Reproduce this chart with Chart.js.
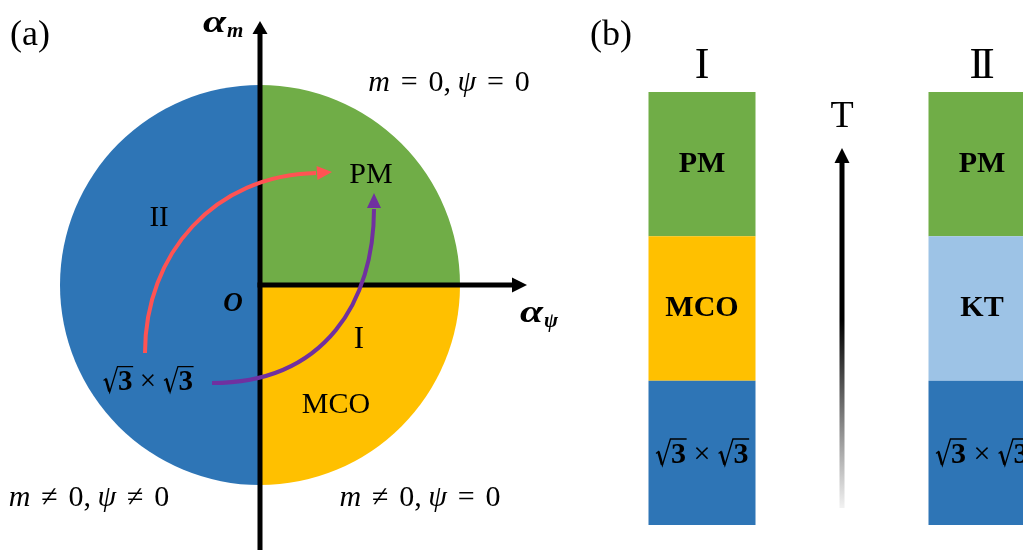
<!DOCTYPE html>
<html>
<head>
<meta charset="utf-8">
<title>Phase diagram</title>
<script src="https://cdn.jsdelivr.net/npm/chart.js@4.4.1/dist/chart.umd.min.js"></script>
<style>
  html, body { margin: 0; padding: 0; background: #ffffff; }
  #stage { position: relative; width: 1023px; height: 550px; overflow: hidden; background: #ffffff; }
  #phaseMap { position: absolute; left: 0; top: 0; }
  #phaseBars { position: absolute; left: 562px; top: 0; }
</style>
</head>
<body>
<div id="stage">
  <canvas id="phaseMap" width="560" height="550"></canvas>
  <canvas id="phaseBars" width="560" height="550"></canvas>
</div>
<script>
// ---------- data ----------
// (a) regions of the (alpha_psi, alpha_m) plane: quarter, quarter, half
const regionLabels = ['PM', 'MCO', '√3×√3'];
const regionShares = [1, 1, 2];
const regionColors = ['#70AD47', '#FFC000', '#2E75B6'];

// (b) temperature windows of each phase sequence (equal thirds of T)
const phaseColumns = ['I', 'II'];
const sqrtWindow = [1, 1];
const mcoWindow  = [1, null];
const ktWindow   = [null, 1];
const pmWindow   = [1, 1];
const tempAxisLabel = 'T';

const SERIF = '"Liberation Serif", "Times New Roman", serif';
const INK = '#000000';

// ---------- drawing helpers ----------
function arrowHead(ctx, tipX, tipY, angle, len, halfW, color) {
  ctx.save();
  ctx.translate(tipX, tipY);
  ctx.rotate(angle);
  ctx.beginPath();
  ctx.moveTo(0, 0);
  ctx.lineTo(-len, -halfW);
  ctx.lineTo(-len, halfW);
  ctx.closePath();
  ctx.fillStyle = color;
  ctx.fill();
  ctx.restore();
}

function centerText(ctx, text, x, y, font) {
  ctx.font = font;
  ctx.fillStyle = INK;
  ctx.textAlign = 'center';
  ctx.textBaseline = 'middle';
  ctx.fillText(text, x, y);
}

// roman numeral drawn glyph by glyph with a chosen step
function numeral(ctx, count, cx, cy, size, step) {
  ctx.font = size + 'px ' + SERIF;
  ctx.fillStyle = INK;
  ctx.textAlign = 'center';
  ctx.textBaseline = 'middle';
  const start = cx - (count - 1) * step / 2;
  for (let i = 0; i < count; i++) ctx.fillText('I', start + i * step, cy);
}

// math line: '*x' = italic symbol, number = extra gap in em
function drawMath(ctx, tokens, cx, cy, size) {
  const parts = tokens.map(t => {
    if (typeof t === 'number') return { gap: t * size };
    const it = t.charAt(0) === '*';
    const txt = it ? t.slice(1) : t;
    const font = (it ? 'italic ' : '') + size + 'px ' + SERIF;
    ctx.font = font;
    return { txt, font, w: ctx.measureText(txt).width };
  });
  const total = parts.reduce((s, p) => s + (p.gap !== undefined ? p.gap : p.w), 0);
  let x = cx - total / 2;
  const base = cy + 0.34 * size;
  ctx.fillStyle = INK;
  ctx.textAlign = 'left';
  ctx.textBaseline = 'alphabetic';
  parts.forEach(p => {
    if (p.gap !== undefined) { x += p.gap; return; }
    ctx.font = p.font;
    ctx.fillText(p.txt, x, base);
    x += p.w;
  });
}

// bold alpha with a bold-italic subscript
function alphaSub(ctx, sub, left, base, size) {
  ctx.fillStyle = INK;
  ctx.textAlign = 'left';
  ctx.textBaseline = 'alphabetic';
  ctx.font = 'italic bold ' + size + 'px ' + SERIF;
  ctx.save();
  ctx.translate(left, base);
  ctx.scale(1.3, 1);
  ctx.fillText('α', 0, 0);
  ctx.restore();
  const w = ctx.measureText('α').width * 1.3;
  ctx.font = 'italic bold ' + Math.round(size * 0.66) + 'px ' + SERIF;
  ctx.fillText(sub, left + w + 1, base + size * 0.16);
}

// "√3 × √3" with a drawn radical sign
function drawRootPair(ctx, cx, cy, size) {
  ctx.save();
  ctx.fillStyle = INK;
  ctx.strokeStyle = INK;
  ctx.font = 'bold ' + size + 'px ' + SERIF;
  const w3 = ctx.measureText('3').width;
  ctx.font = size + 'px ' + SERIF;
  const wTimes = ctx.measureText(' × ').width;
  const rw = 0.52 * size;
  const total = 2 * (rw + w3) + wTimes;
  const base = cy + 0.34 * size;
  const s = size;
  const root = (x0) => {
    ctx.lineJoin = 'miter';
    ctx.lineCap = 'butt';
    ctx.beginPath();
    ctx.moveTo(x0 + 0.02 * s, base - 0.32 * s);
    ctx.lineTo(x0 + 0.10 * s, base - 0.38 * s);
    ctx.lineTo(x0 + 0.23 * s, base + 0.08 * s);
    ctx.lineTo(x0 + rw - 0.02 * s, base - 0.80 * s);
    ctx.lineTo(x0 + rw + w3 + 0.02 * s, base - 0.80 * s);
    ctx.lineWidth = 0.045 * s;
    ctx.stroke();
    ctx.beginPath();
    ctx.moveTo(x0 + 0.10 * s, base - 0.38 * s);
    ctx.lineTo(x0 + 0.22 * s, base + 0.05 * s);
    ctx.lineWidth = 0.085 * s;
    ctx.stroke();
    ctx.font = 'bold ' + size + 'px ' + SERIF;
    ctx.textAlign = 'left';
    ctx.textBaseline = 'alphabetic';
    ctx.fillText('3', x0 + rw, base);
  };
  let x = cx - total / 2;
  root(x);
  x += rw + w3;
  ctx.font = size + 'px ' + SERIF;
  ctx.textAlign = 'left';
  ctx.textBaseline = 'alphabetic';
  ctx.fillText(' × ', x, base);
  x += wTimes;
  root(x);
  ctx.restore();
}

// ---------- (a) axes, transition paths and labels on the pie ----------
const mapOverlay = {
  id: 'mapOverlay',
  afterDatasetsDraw(chart) {
    const ctx = chart.ctx;
    const arc = chart.getDatasetMeta(0).data[0];
    const cx = arc.x, cy = arc.y, k = arc.outerRadius / 200;
    const P = (dx, dy) => [cx + dx * k, cy + dy * k];
    ctx.save();

    // alpha_m axis (vertical) and alpha_psi axis (horizontal)
    ctx.strokeStyle = INK;
    ctx.lineWidth = 5;
    ctx.lineCap = 'butt';
    const vTip = P(0, -264);
    ctx.beginPath();
    ctx.moveTo(cx, chart.height);
    ctx.lineTo(cx, vTip[1] + 10);
    ctx.stroke();
    arrowHead(ctx, vTip[0], vTip[1], -Math.PI / 2, 13, 7.5, INK);
    const hTip = P(267, 0);
    ctx.beginPath();
    ctx.moveTo(cx - 2.5, cy);
    ctx.lineTo(hTip[0] - 10, cy);
    ctx.stroke();
    arrowHead(ctx, hTip[0], hTip[1], 0, 15, 7.5, INK);

    // transition paths towards PM
    const paths = [
      { color: '#FF5353', pts: [P(-115, 68), P(-115, -32), P(-45, -110), P(56, -112)], tip: P(72, -113) },
      { color: '#7030A0', pts: [P(-48, 98), P(66, 98), P(114, 15), P(114, -76)], tip: P(114, -92) }
    ];
    paths.forEach(p => {
      const [a, b, c, d] = p.pts;
      ctx.strokeStyle = p.color;
      ctx.lineWidth = 4;
      ctx.beginPath();
      ctx.moveTo(a[0], a[1]);
      ctx.bezierCurveTo(b[0], b[1], c[0], c[1], d[0], d[1]);
      ctx.stroke();
      const ang = Math.atan2(p.tip[1] - d[1], p.tip[0] - d[0]);
      arrowHead(ctx, p.tip[0], p.tip[1], ang, 15, 7, p.color);
    });

    // region names
    let q = P(-101, -67); numeral(ctx, 2, q[0], q[1], 29, 9.5);
    q = P(99, 55);        numeral(ctx, 1, q[0], q[1], 31, 0);
    q = P(111, -110);     centerText(ctx, regionLabels[0], q[0], q[1], '30px ' + SERIF);
    q = P(76, 120);       centerText(ctx, regionLabels[1], q[0], q[1], '30px ' + SERIF);
    q = P(-112, 95);      drawRootPair(ctx, q[0], q[1], 29);
    q = P(-27, 19);       centerText(ctx, 'O', q[0], q[1], 'italic bold 27px ' + SERIF);

    // order parameters of each region
    const eqGap = 0.36, commaGap = 0.22;
    q = P(189, -204); drawMath(ctx, ['*m', eqGap, '=', eqGap, '0,', commaGap, '*ψ', eqGap, '=', eqGap, '0'], q[0], q[1], 30);
    q = P(-171, 211); drawMath(ctx, ['*m', eqGap, '≠', eqGap, '0,', commaGap, '*ψ', eqGap, '≠', eqGap, '0'], q[0], q[1], 30);
    q = P(160, 211);  drawMath(ctx, ['*m', eqGap, '≠', eqGap, '0,', commaGap, '*ψ', eqGap, '=', eqGap, '0'], q[0], q[1], 30);

    // axis names
    q = P(-57, -253); alphaSub(ctx, 'm', q[0], q[1], 32);
    q = P(260, 37);   alphaSub(ctx, 'ψ', q[0], q[1], 32);

    // panel tag
    ctx.font = '36px ' + SERIF;
    ctx.fillStyle = INK;
    ctx.textAlign = 'left';
    ctx.textBaseline = 'alphabetic';
    q = P(-250, -240);
    ctx.fillText('(a)', q[0], q[1]);
    ctx.restore();
  }
};

new Chart(document.getElementById('phaseMap'), {
  type: 'pie',
  data: {
    labels: regionLabels,
    datasets: [{
      data: regionShares,
      backgroundColor: regionColors,
      borderWidth: 0,
      hoverOffset: 0,
      offset: 0
    }]
  },
  options: {
    responsive: false,
    animation: false,
    events: [],
    rotation: 0,
    layout: { padding: { left: 60, right: 100, top: 85, bottom: 65 } },
    plugins: { legend: { display: false }, tooltip: { enabled: false } }
  },
  plugins: [mapOverlay]
});

// ---------- (b) phase names, column headings and the T arrow ----------
const barOverlay = {
  id: 'barOverlay',
  afterDatasetsDraw(chart) {
    const ctx = chart.ctx;
    const xs = chart.scales.x;
    const area = chart.chartArea;
    ctx.save();

    chart.data.datasets.forEach((ds, i) => {
      chart.getDatasetMeta(i).data.forEach((bar, j) => {
        if (ds.data[j] == null) return;
        const midY = (bar.y + bar.base) / 2;
        if (ds.label.charAt(0) === '√') drawRootPair(ctx, bar.x, midY, 30);
        else centerText(ctx, ds.label, bar.x, midY, 'bold 30px ' + SERIF);
      });
    });

    phaseColumns.forEach((name, j) => {
      numeral(ctx, name.length, xs.getPixelForValue(j), area.top - 26, 44, 10.5);
    });

    // temperature axis between the two columns
    const tx = (xs.getPixelForValue(0) + xs.getPixelForValue(1)) / 2;
    const tipY = area.top + 56;
    const bottomY = area.bottom - 17;
    const grad = ctx.createLinearGradient(0, bottomY, 0, tipY);
    grad.addColorStop(0, '#f2f2f2');
    grad.addColorStop(0.52, '#000000');
    grad.addColorStop(1, '#000000');
    ctx.strokeStyle = grad;
    ctx.lineWidth = 5;
    ctx.beginPath();
    ctx.moveTo(tx, bottomY);
    ctx.lineTo(tx, tipY + 12);
    ctx.stroke();
    arrowHead(ctx, tx, tipY, -Math.PI / 2, 15, 7.5, INK);
    centerText(ctx, tempAxisLabel, tx, area.top + 25, '38px ' + SERIF);

    ctx.font = '36px ' + SERIF;
    ctx.fillStyle = INK;
    ctx.textAlign = 'left';
    ctx.textBaseline = 'alphabetic';
    ctx.fillText('(b)', area.left + 28, 45);
    ctx.restore();
  }
};

new Chart(document.getElementById('phaseBars'), {
  type: 'bar',
  data: {
    labels: phaseColumns,
    datasets: [
      { label: '√3×√3', data: sqrtWindow, backgroundColor: '#2E75B6' },
      { label: 'MCO',   data: mcoWindow,  backgroundColor: '#FFC000' },
      { label: 'KT',    data: ktWindow,   backgroundColor: '#9DC3E6' },
      { label: 'PM',    data: pmWindow,   backgroundColor: '#70AD47' }
    ]
  },
  options: {
    responsive: false,
    animation: false,
    events: [],
    layout: { padding: { top: 92, bottom: 25, left: 0, right: 0 } },
    datasets: { bar: { barPercentage: 1, categoryPercentage: 107 / 280, borderWidth: 0 } },
    scales: {
      x: { stacked: true, display: false },
      y: { stacked: true, display: false, min: 0, max: 3 }
    },
    plugins: { legend: { display: false }, tooltip: { enabled: false } }
  },
  plugins: [barOverlay]
});
</script>
</body>
</html>
